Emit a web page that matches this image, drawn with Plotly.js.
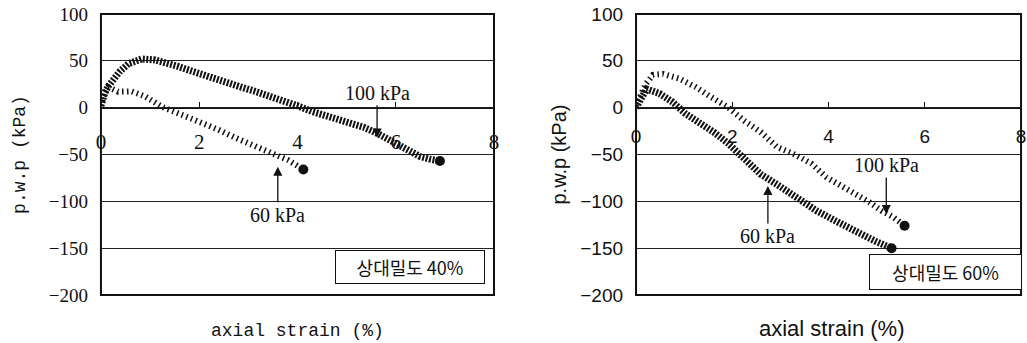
<!DOCTYPE html>
<html><head><meta charset="utf-8">
<script src="https://cdn.plot.ly/plotly-3.0.1.min.js"></script>
<style>html,body{margin:0;padding:0;background:#fff}#chart{width:1027px;height:343px}</style>
</head><body><div id="chart"></div><script>
// ---- data (axial strain %, pore water pressure kPa) ----
// Relative density 40%
const strainL100 = [0.0,0.03,0.08,0.15,0.25,0.39,0.56,0.83,1.1,1.35,1.57,1.85,2.12,2.35,2.59,2.85,3.13,3.4,3.68,4.0,4.29,4.53,4.8,5.07,5.35,5.61,5.85,6.09,6.3,6.49,6.7,6.9];
const pwpL100    = [2,10,16,23,30,39,47,52,51,48,44,39,34,30,26,22,17.5,13,8.5,2,-4,-8,-12,-16,-21,-27,-34,-41,-47,-52,-55,-57];
const strainL60  = [0.0,0.05,0.15,0.25,0.35,0.62,0.9,1.24,1.64,2.05,2.39,2.73,3.13,3.54,3.81,4.12];
const pwpL60     = [2,12,22,20,17,17.5,12,1,-7.5,-14.6,-23.5,-32,-41,-50,-56,-66];
// Relative density 60%
const strainR60  = [0.0,0.05,0.12,0.22,0.49,0.76,1.03,1.37,1.64,1.91,2.25,2.59,2.93,3.34,3.75,4.15,4.56,4.97,5.31];
const pwpR60     = [0,5,11,20,15,6,-6.5,-17,-27,-38,-55,-71,-82,-96,-110,-121,-132,-142.5,-150];
const strainR100 = [0.0,0.05,0.2,0.35,0.56,0.9,1.24,1.57,1.91,2.25,2.59,2.93,3.34,3.65,3.95,4.25,4.56,4.85,5.1,5.35,5.58];
const pwpR100    = [2,8,25,35,36,31,22,11,0.5,-14,-26,-42,-51,-60,-74,-83,-92,-101,-110,-117,-126];
// ---- text ----
const xTitle = 'axial strain (%)';
const yTitle = 'p.w.p (kPa)';
const label100 = '100 kPa';
const label60 = '60 kPa';
const boxLeft = '상대밀도 40%';
const boxRight = '상대밀도 60%';
const xTicks = [0,2,4,6,8];
const yTicks = [-200,-150,-100,-50,0,50,100];

const ink = '#111';
const bold = {color: ink, width: 7, dash: '2px,1.5px'};
const light = {color: ink, width: 6, dash: '1.5px,3.5px'};
function curve(x, y, line, xa, ya) {
  return {x: x, y: y, xaxis: xa, yaxis: ya, type: 'scatter', mode: 'lines', line: line, hoverinfo: 'skip'};
}
function endDot(x, y, xa, ya) {
  return {x: [x[x.length-1]], y: [y[y.length-1]], xaxis: xa, yaxis: ya, type: 'scatter', mode: 'markers',
          marker: {color: ink, size: 10}, hoverinfo: 'skip'};
}
const data = [
  curve(strainL100, pwpL100, bold, 'x', 'y'), endDot(strainL100, pwpL100, 'x', 'y'),
  curve(strainL60, pwpL60, light, 'x', 'y'), endDot(strainL60, pwpL60, 'x', 'y'),
  curve(strainR60, pwpR60, bold, 'x2', 'y2'), endDot(strainR60, pwpR60, 'x2', 'y2'),
  curve(strainR100, pwpR100, light, 'x2', 'y2'), endDot(strainR100, pwpR100, 'x2', 'y2')
];

const yDom = [0.1399, 0.9592];
const zeroPos = yDom[0] + (200/300) * (yDom[1] - yDom[0]);
const serif = 'Liberation Serif';
const mono = 'Liberation Mono';
const sans = 'Liberation Sans';
const xDomL = [0.0983, 0.4810];
const xDomR = [0.6193, 0.9942];

function xAxis(dom, font, size, standoff) {
  return {domain: dom, range: [0, 8], anchor: 'free', position: zeroPos, tickvals: xTicks,
    ticks: 'inside', ticklen: 6, tickcolor: ink, tickwidth: 1, showline: true, linecolor: ink, linewidth: 1,
    showgrid: false, zeroline: false, tickfont: {family: font, size: size, color: ink},
    ticklabelstandoff: standoff, ticklabeloverflow: 'allow', automargin: false, fixedrange: true};
}
function yAxis(anchor, font, size, tfont, tsize, tstand) {
  return {domain: yDom, range: [-200, 100], anchor: anchor, tickvals: yTicks, showgrid: true,
    gridcolor: '#222', gridwidth: 1, zeroline: false, showline: false, ticks: '',
    tickfont: {family: font, size: size, color: ink}, ticklabelstandoff: 12, automargin: false,
    title: {text: yTitle, font: {family: tfont, size: tsize, color: ink}, standoff: tstand}, fixedrange: true};
}
function arrowNote(xa, ya, x, y, ay, text) {
  return {xref: xa, yref: ya, x: x, y: y, ax: 0, ay: ay, text: text, showarrow: true, arrowhead: 2,
    arrowsize: 1.4, arrowwidth: 1.3, arrowcolor: ink, xanchor: 'center', yanchor: 'middle',
    font: {family: serif, size: 20, color: ink}};
}

const layout = {
  width: 1027, height: 343, margin: {l: 0, r: 0, t: 0, b: 0}, showlegend: false,
  paper_bgcolor: '#fff', plot_bgcolor: '#fff',
  xaxis: xAxis(xDomL, serif, 21, 15),
  yaxis: yAxis('x', serif, 19, mono, 18, 18),
  xaxis2: xAxis(xDomR, sans, 19, 12),
  yaxis2: yAxis('x2', sans, 19, sans, 20, 8),
  shapes: [
    {type: 'rect', xref: 'x domain', yref: 'y domain', x0: 0, x1: 1, y0: 0, y1: 1, line: {color: ink, width: 2}, layer: 'above'},
    {type: 'rect', xref: 'x2 domain', yref: 'y2 domain', x0: 0, x1: 1, y0: 0, y1: 1, line: {color: ink, width: 2}, layer: 'above'}
  ],
  annotations: [
    {xref: 'paper', yref: 'paper', x: (xDomL[0] + xDomL[1]) / 2, y: 1 - 331/343, text: xTitle, showarrow: false,
     xanchor: 'center', yanchor: 'middle', font: {family: mono, size: 18, color: ink}},
    {xref: 'paper', yref: 'paper', x: (0.6193 + 1.0) / 2, y: 1 - 328/343, text: xTitle, showarrow: false,
     xanchor: 'center', yanchor: 'middle', font: {family: sans, size: 22, color: ink}},
    arrowNote('x', 'y', 5.62, -32, -45, label100),
    arrowNote('x', 'y', 3.6, -63, 48, label60),
    arrowNote('x2', 'y2', 5.2, -113.5, -49, label100),
    arrowNote('x2', 'y2', 2.74, -83.5, 50, label60),
    {xref: 'x domain', yref: 'y domain', x: 0.786, y: 0.0996, text: boxLeft, showarrow: false,
     xanchor: 'center', yanchor: 'middle',
     bordercolor: ink, borderwidth: 1, borderpad: 4, width: 140, height: 24, bgcolor: '#fff',
     font: {family: 'Noto Sans CJK KR', size: 18, color: ink}},
    {xref: 'paper', yref: 'y2 domain', x: 945.5 / 1027, y: 0.082, text: boxRight, showarrow: false,
     xanchor: 'center', yanchor: 'middle',
     bordercolor: ink, borderwidth: 1, borderpad: 4, width: 143, height: 26, bgcolor: '#fff',
     font: {family: 'Noto Sans CJK KR', size: 18, color: ink}}
  ]
};
Plotly.newPlot('chart', data, layout, {displayModeBar: false, staticPlot: true});
</script></body></html>
